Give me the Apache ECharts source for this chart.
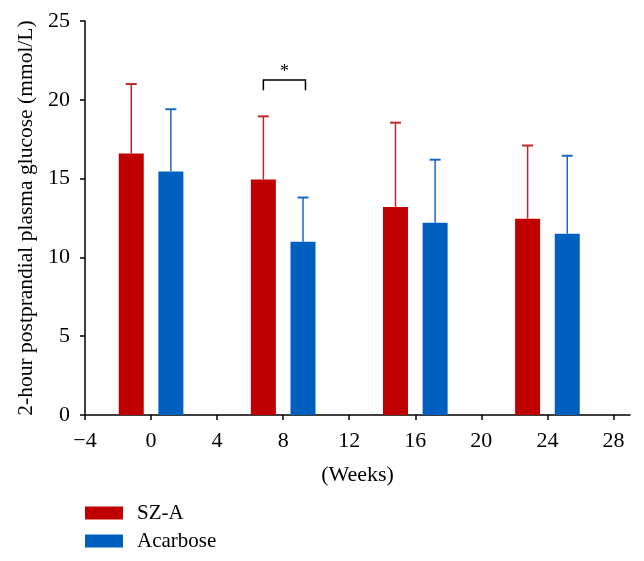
<!DOCTYPE html>
<html>
<head>
<meta charset="utf-8">
<script src="https://cdn.jsdelivr.net/npm/echarts@6/dist/echarts.min.js"></script>
<style>
html,body{margin:0;padding:0;background:#fff;}
#chart{width:644px;height:561px;}
</style>
</head>
<body>
<div id="chart"></div>
<script>
// Data
const weeks = [0, 8, 16, 24];
const szaX = [-1.2, 6.8, 14.8, 22.8];
const acaX = [1.2, 9.2, 17.2, 25.2];
const szaMean = [16.6, 14.95, 13.2, 12.45];
const szaUpper = [21.0, 18.95, 18.55, 17.1];
const acaMean = [15.45, 11.0, 12.2, 11.5];
const acaUpper = [19.4, 13.8, 16.2, 16.45];
const xTicks = [-4, 0, 4, 8, 12, 16, 20, 24, 28];
const yTicks = [0, 5, 10, 15, 20, 25];
// significance bracket: [xLeft, xRight, yTop, yLegBottom]
const bracket = [[6.8, 9.35, 21.25, 20.6]];
const sigLabel = '*';

const RED = '#C00000';
const BLUE = '#0060C0';
const FONT = '"Liberation Serif", "DejaVu Serif", serif';

const chart = echarts.init(document.getElementById('chart'));

function errRender(color) {
  return function (params, api) {
    const x = api.value(0), lo = api.value(1), hi = api.value(2);
    const p0 = api.coord([x, lo]);
    const p1 = api.coord([x, hi]);
    const half = 5.5;
    return {
      type: 'group',
      children: [
        { type: 'line', shape: { x1: p0[0], y1: p0[1], x2: p1[0], y2: p1[1] }, style: { stroke: color, lineWidth: 1.5 } },
        { type: 'line', shape: { x1: p1[0] - half, y1: p1[1], x2: p1[0] + half, y2: p1[1] }, style: { stroke: color, lineWidth: 2 } }
      ]
    };
  };
}

const option = {
  animation: false,
  backgroundColor: '#fff',
  textStyle: { fontFamily: FONT },
  grid: { left: 85, right: 14, top: 21, bottom: 146, containLabel: false },
  legend: {
    orient: 'vertical',
    left: 85,
    top: 502,
    padding: 0,
    itemWidth: 38,
    itemHeight: 13,
    itemGap: 6,
    icon: 'rect',
    data: ['SZ-A', 'Acarbose'],
    textStyle: { fontFamily: FONT, fontSize: 21, lineHeight: 22, color: '#000', padding: [0, 0, 0, 9] }
  },
  xAxis: {
    type: 'value',
    min: -4,
    max: 29,
    interval: 4,
    name: '(Weeks)',
    nameLocation: 'middle',
    nameGap: 49,
    nameTextStyle: { fontFamily: FONT, fontSize: 22, color: '#000' },
    splitLine: { show: false },
    axisLine: { show: true, onZero: false, lineStyle: { color: '#000', width: 1.5 } },
    axisTick: { show: true, inside: false, length: 5, customValues: xTicks, lineStyle: { color: '#000', width: 1.5 } },
    axisLabel: { customValues: xTicks, margin: 15, fontFamily: FONT, fontSize: 22, color: '#000',
      formatter: v => (v < 0 ? '\u2212' + Math.abs(v) : String(v)) }
  },
  yAxis: {
    type: 'value',
    min: 0,
    max: 25,
    interval: 5,
    name: '2-hour postprandial plasma glucose (mmol/L)',
    nameLocation: 'middle',
    nameGap: 48,
    nameTextStyle: { fontFamily: FONT, fontSize: 21.5, color: '#000' },
    splitLine: { show: false },
    axisLine: { show: true, onZero: false, lineStyle: { color: '#000', width: 1.5 } },
    axisTick: { show: true, inside: false, length: 5, lineStyle: { color: '#000', width: 1.5 } },
    axisLabel: { margin: 15, fontFamily: FONT, fontSize: 22, color: '#000' }
  },
  series: [
    {
      name: 'SZ-A', type: 'bar', barWidth: 25, barGap: '-100%',
      itemStyle: { color: RED },
      data: szaX.map((x, i) => [x, szaMean[i]]),
      z: 2
    },
    {
      name: 'Acarbose', type: 'bar', barWidth: 25, barGap: '-100%',
      itemStyle: { color: BLUE },
      data: acaX.map((x, i) => [x, acaMean[i]]),
      z: 2
    },
    {
      name: 'SZ-A err', type: 'custom',
      renderItem: errRender('#C0282A'),
      data: szaX.map((x, i) => [x, szaMean[i], szaUpper[i]]),
      z: 3
    },
    {
      name: 'Acarbose err', type: 'custom',
      renderItem: errRender('#1A68C2'),
      data: acaX.map((x, i) => [x, acaMean[i], acaUpper[i]]),
      z: 3
    },
    {
      name: 'sig', type: 'custom',
      renderItem: function (params, api) {
        const a = api.coord([api.value(0), api.value(2)]);
        const b = api.coord([api.value(1), api.value(2)]);
        const c = api.coord([api.value(0), api.value(3)]);
        return {
          type: 'group',
          children: [
            { type: 'polyline', shape: { points: [[a[0], c[1]], a, b, [b[0], c[1]]] }, style: { stroke: '#000', lineWidth: 1.5, fill: null } },
            { type: 'text', x: (a[0] + b[0]) / 2, y: a[1] + 1, style: { text: sigLabel, fontFamily: FONT, fontSize: 18, fill: '#000', align: 'center', verticalAlign: 'bottom' } }
          ]
        };
      },
      data: bracket,
      z: 3
    }
  ]
};
chart.setOption(option);
</script>
</body>
</html>
